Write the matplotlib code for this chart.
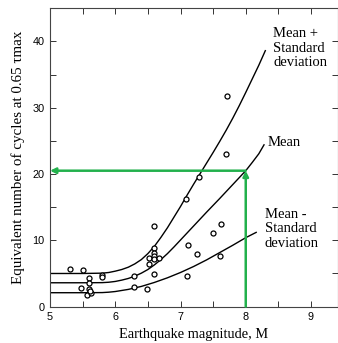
import matplotlib.pyplot as plt
from matplotlib.ticker import MultipleLocator, FixedLocator

# Field data: earthquake magnitude vs equivalent number of uniform cycles
mag = [5.30, 5.50, 5.60, 5.60, 5.48, 5.60, 5.57, 5.63, 5.61, 5.79, 5.79,
       6.28, 6.29, 6.48, 6.51, 6.51, 6.59, 6.59, 6.59, 6.59, 6.59, 6.67, 6.59,
       7.10, 7.11, 7.25, 7.08, 7.28, 7.50, 7.62, 7.61, 7.70, 7.71]
cycles = [5.7, 5.6, 4.3, 3.6, 2.8, 2.6, 1.8, 2.0, 2.3, 4.8, 4.4,
          4.6, 3.0, 2.7, 7.3, 6.5, 12.2, 8.8, 8.15, 7.6, 7.15, 7.35, 4.9,
          4.6, 9.25, 7.95, 16.3, 19.5, 11.1, 12.4, 7.6, 23.0, 31.8]

# Fitted curves
upper_m = [5.0, 5.5, 5.8, 5.9, 6.0, 6.1, 6.2, 6.3, 6.4, 6.5, 6.6, 6.7, 6.8,
           6.9, 7.0, 7.1, 7.2, 7.3, 7.4, 7.5, 7.6, 7.7, 7.8, 7.9, 8.0, 8.1,
           8.2, 8.3]
upper_n = [5.0, 5.0, 5.05, 5.15, 5.35, 5.6, 5.95, 6.45, 7.1, 8.0, 9.1, 10.45,
           11.9, 13.5, 15.1, 16.8, 18.45, 20.05, 21.65, 23.25, 24.9, 26.6,
           28.4, 30.3, 32.3, 34.35, 36.4, 38.6]
mean_m = [5.0, 5.5, 5.8, 5.9, 6.0, 6.1, 6.2, 6.3, 6.4, 6.5, 6.6, 6.7, 6.8,
          6.9, 7.0, 7.2, 7.4, 7.6, 7.8, 8.0, 8.1, 8.2, 8.28]
mean_n = [3.6, 3.6, 3.62, 3.68, 3.8, 4.0, 4.25, 4.6, 5.05, 5.6, 6.3, 7.1, 8.0,
          9.0, 10.05, 12.15, 14.25, 16.3, 18.4, 20.5, 21.75, 23.05, 24.4]
lower_m = [5.0, 5.5, 5.8, 5.9, 6.0, 6.2, 6.4, 6.6, 6.8, 7.0, 7.2, 7.4,
           7.6, 7.8, 8.0, 8.16]
lower_n = [2.1, 2.1, 2.12, 2.18, 2.28, 2.6, 3.05, 3.65, 4.35, 5.15, 6.05, 7.05,
           8.15, 9.25, 10.4, 11.2]

# Design magnitude and resulting cycles
design_m = 8.0
design_n = 20.5

green = '#22b14c'
serif = 'Liberation Serif'
sans = 'Liberation Sans'

fig = plt.figure(figsize=(3.38, 3.43), dpi=100)
ax = fig.add_axes([0.148, 0.106, 0.852, 0.870])

ax.plot(upper_m, upper_n, color='black', lw=1.0)
ax.plot(mean_m, mean_n, color='black', lw=1.0)
ax.plot(lower_m, lower_n, color='black', lw=1.0)
ax.plot(mag, cycles, 'o', ms=3.6, mfc='white', mec='black', mew=0.9)

# Green read-off lines
ax.annotate('', xy=(5.0, design_n), xytext=(design_m, design_n),
            arrowprops=dict(arrowstyle='-|>', color=green, lw=1.8,
                            mutation_scale=8, shrinkA=0, shrinkB=0))
ax.annotate('', xy=(design_m, design_n), xytext=(design_m, 0),
            arrowprops=dict(arrowstyle='-|>', color=green, lw=1.8,
                            mutation_scale=8, shrinkA=0, shrinkB=0))

ax.text(8.42, 42.1, 'Mean +\nStandard\ndeviation', family=serif, fontsize=10.5,
        va='top', ha='left', linespacing=1.15)
ax.text(8.33, 24.8, 'Mean', family=serif, fontsize=10.5, va='center', ha='left')
ax.text(8.29, 14.9, 'Mean -\nStandard\ndeviation', family=serif, fontsize=10.5,
        va='top', ha='left', linespacing=1.15)

ax.set_xlim(5, 9.414)
ax.set_ylim(0, 45)

ax.xaxis.set_major_locator(FixedLocator([5, 6, 7, 8, 9]))
ax.xaxis.set_minor_locator(MultipleLocator(0.5))
ax.yaxis.set_major_locator(FixedLocator([0, 10, 20, 30, 40]))
ax.yaxis.set_minor_locator(MultipleLocator(5))
ax.tick_params(which='both', direction='in', top=True, right=True,
               length=4, width=0.7, color='#333333', labelsize=7.8, pad=4)
for lab in ax.get_xticklabels() + ax.get_yticklabels():
    lab.set_family(sans)

for sp in ax.spines.values():
    sp.set_linewidth(0.8)
    sp.set_color('#444444')

ax.set_xlabel('Earthquake magnitude, M', family=serif, fontsize=10.4, labelpad=4)
ax.set_ylabel('Equivalent number of cycles at 0.65 τmax', family=serif,
              fontsize=10.8, labelpad=5)

fig.savefig('out.png', dpi=100)
